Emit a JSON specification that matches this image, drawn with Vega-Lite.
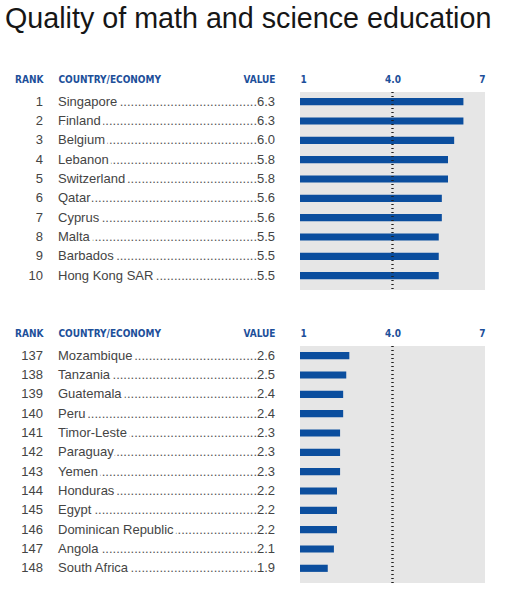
{
  "$schema": "https://vega.github.io/schema/vega-lite/v6.json",
  "background": "white",
  "padding": {"left": 5, "top": 5, "right": 5, "bottom": 5},
  "title": {
    "text": "Quality of math and science education",
    "anchor": "start",
    "font": "Liberation Sans",
    "fontSize": 28.7,
    "fontWeight": "normal",
    "color": "#161616",
    "offset": 40
  },
  "datasets": {
    "best": [
      {"rank": 1, "country": "Singapore", "value": 6.3},
      {"rank": 2, "country": "Finland", "value": 6.3},
      {"rank": 3, "country": "Belgium", "value": 6.0},
      {"rank": 4, "country": "Lebanon", "value": 5.8},
      {"rank": 5, "country": "Switzerland", "value": 5.8},
      {"rank": 6, "country": "Qatar", "value": 5.6},
      {"rank": 7, "country": "Cyprus", "value": 5.6},
      {"rank": 8, "country": "Malta", "value": 5.5},
      {"rank": 9, "country": "Barbados", "value": 5.5},
      {"rank": 10, "country": "Hong Kong SAR", "value": 5.5}
    ],
    "worst": [
      {"rank": 137, "country": "Mozambique", "value": 2.6},
      {"rank": 138, "country": "Tanzania", "value": 2.5},
      {"rank": 139, "country": "Guatemala", "value": 2.4},
      {"rank": 140, "country": "Peru", "value": 2.4},
      {"rank": 141, "country": "Timor-Leste", "value": 2.3},
      {"rank": 142, "country": "Paraguay", "value": 2.3},
      {"rank": 143, "country": "Yemen", "value": 2.3},
      {"rank": 144, "country": "Honduras", "value": 2.2},
      {"rank": 145, "country": "Egypt", "value": 2.2},
      {"rank": 146, "country": "Dominican Republic", "value": 2.2},
      {"rank": 147, "country": "Angola", "value": 2.1},
      {"rank": 148, "country": "South Africa", "value": 1.9}
    ]
  },
  "spacing": 37,
  "vconcat": [
    {
      "data": {"name": "best"},
      "spacing": 15,
      "hconcat": [
        {
          "width": 38,
          "height": 198,
          "mark": {"type": "text", "align": "right", "baseline": "middle", "font": "Liberation Sans", "fontSize": 13, "color": "#444"},
          "encoding": {
            "y": {"field": "rank", "type": "ordinal", "axis": null, "scale": {"type": "point", "padding": 0.62, "align": 0.403}},
            "x": {"datum": 1, "type": "quantitative", "scale": {"domain": [0, 1]}, "axis": {"values": [1], "labelExpr": "'RANK'", "labelAlign": "right"}},
            "text": {"field": "rank", "type": "ordinal"}
          }
        },
        {
          "width": 227,
          "height": 198,
          "encoding": {
            "y": {"field": "rank", "type": "ordinal", "axis": null, "scale": {"type": "point", "padding": 0.62, "align": 0.403}}
          },
          "layer": [
            {
              "mark": {"type": "text", "text": "............................................................", "align": "right", "baseline": "middle", "dx": -28, "clip": true, "font": "Liberation Sans", "fontSize": 13, "color": "#555"},
              "encoding": {
                "x": {"datum": 1, "type": "quantitative", "scale": {"domain": [0, 1]}, "axis": {
                  "values": [0, 1],
                  "labelExpr": "datum.value == 0 ? 'COUNTRY/ECONOMY' : 'VALUE'",
                  "labelAlign": {"condition": {"test": "datum.value == 0", "value": "left"}, "value": "right"},
                  "labelOffset": {"condition": {"test": "datum.value == 0", "value": 0}, "value": -10}
                }}
              }
            },
            {
              "mark": {"type": "text", "align": "left", "baseline": "middle", "font": "Liberation Sans", "fontSize": 13, "fill": "white", "stroke": "white", "strokeWidth": 6},
              "encoding": {
                "x": {"datum": 0, "type": "quantitative"},
                "text": {"field": "country"}
              }
            },
            {
              "mark": {"type": "text", "align": "left", "baseline": "middle", "font": "Liberation Sans", "fontSize": 13, "color": "#444"},
              "encoding": {
                "x": {"datum": 0, "type": "quantitative"},
                "text": {"field": "country"}
              }
            },
            {
              "mark": {"type": "text", "align": "right", "baseline": "middle", "dx": -10, "font": "Liberation Sans", "fontSize": 13, "color": "#444"},
              "encoding": {
                "x": {"datum": 1, "type": "quantitative"},
                "text": {"field": "value", "type": "quantitative", "format": ".1f"}
              }
            }
          ]
        },
        {
          "width": 185,
          "height": 198,
          "view": {"fill": "#e6e6e6", "stroke": null},
          "layer": [
            {
              "mark": {"type": "bar", "color": "#0b4e9e", "height": {"band": 0.37}},
              "encoding": {
                "y": {"field": "rank", "type": "ordinal", "axis": null, "scale": {"paddingInner": 0, "paddingOuter": 0.12, "align": 0}},
                "x": {"field": "value", "type": "quantitative", "scale": {"domain": [1, 7], "zero": false}, "axis": {
                  "values": [1, 4, 7],
                  "labelExpr": "datum.value == 4 ? '4.0' : datum.label",
                  "labelFlush": true
                }},
                "x2": {"datum": 1}
              }
            },
            {
              "mark": {"type": "rule", "color": "#222", "strokeWidth": 1.2, "strokeDash": [1, 3]},
              "encoding": {"x": {"datum": 4, "type": "quantitative"}}
            }
          ]
        }
      ]
    },
    {
      "data": {"name": "worst"},
      "spacing": 15,
      "hconcat": [
        {
          "width": 38,
          "height": 237,
          "mark": {"type": "text", "align": "right", "baseline": "middle", "font": "Liberation Sans", "fontSize": 13, "color": "#444"},
          "encoding": {
            "y": {"field": "rank", "type": "ordinal", "axis": null, "scale": {"type": "point", "padding": 0.63, "align": 0.397}},
            "x": {"datum": 1, "type": "quantitative", "scale": {"domain": [0, 1]}, "axis": {"values": [1], "labelExpr": "'RANK'", "labelAlign": "right"}},
            "text": {"field": "rank", "type": "ordinal"}
          }
        },
        {
          "width": 227,
          "height": 237,
          "encoding": {
            "y": {"field": "rank", "type": "ordinal", "axis": null, "scale": {"type": "point", "padding": 0.63, "align": 0.397}}
          },
          "layer": [
            {
              "mark": {"type": "text", "text": "............................................................", "align": "right", "baseline": "middle", "dx": -28, "clip": true, "font": "Liberation Sans", "fontSize": 13, "color": "#555"},
              "encoding": {
                "x": {"datum": 1, "type": "quantitative", "scale": {"domain": [0, 1]}, "axis": {
                  "values": [0, 1],
                  "labelExpr": "datum.value == 0 ? 'COUNTRY/ECONOMY' : 'VALUE'",
                  "labelAlign": {"condition": {"test": "datum.value == 0", "value": "left"}, "value": "right"},
                  "labelOffset": {"condition": {"test": "datum.value == 0", "value": 0}, "value": -10}
                }}
              }
            },
            {
              "mark": {"type": "text", "align": "left", "baseline": "middle", "font": "Liberation Sans", "fontSize": 13, "fill": "white", "stroke": "white", "strokeWidth": 6},
              "encoding": {
                "x": {"datum": 0, "type": "quantitative"},
                "text": {"field": "country"}
              }
            },
            {
              "mark": {"type": "text", "align": "left", "baseline": "middle", "font": "Liberation Sans", "fontSize": 13, "color": "#444"},
              "encoding": {
                "x": {"datum": 0, "type": "quantitative"},
                "text": {"field": "country"}
              }
            },
            {
              "mark": {"type": "text", "align": "right", "baseline": "middle", "dx": -10, "font": "Liberation Sans", "fontSize": 13, "color": "#444"},
              "encoding": {
                "x": {"datum": 1, "type": "quantitative"},
                "text": {"field": "value", "type": "quantitative", "format": ".1f"}
              }
            }
          ]
        },
        {
          "width": 185,
          "height": 237,
          "view": {"fill": "#e6e6e6", "stroke": null},
          "layer": [
            {
              "mark": {"type": "bar", "color": "#0b4e9e", "height": {"band": 0.37}},
              "encoding": {
                "y": {"field": "rank", "type": "ordinal", "axis": null, "scale": {"paddingInner": 0, "paddingOuter": 0.13, "align": 0}},
                "x": {"field": "value", "type": "quantitative", "scale": {"domain": [1, 7], "zero": false}, "axis": {
                  "values": [1, 4, 7],
                  "labelExpr": "datum.value == 4 ? '4.0' : datum.label",
                  "labelFlush": true
                }},
                "x2": {"datum": 1}
              }
            },
            {
              "mark": {"type": "rule", "color": "#222", "strokeWidth": 1.2, "strokeDash": [1, 3]},
              "encoding": {"x": {"datum": 4, "type": "quantitative"}}
            }
          ]
        }
      ]
    }
  ],
  "config": {
    "view": {"stroke": null},
    "axis": {
      "orient": "top",
      "title": null,
      "ticks": false,
      "domain": false,
      "grid": false,
      "labelPadding": 8,
      "labelFont": "Liberation Sans Narrow, DejaVu Sans Condensed, Liberation Sans",
      "labelFontWeight": "bold",
      "labelFontSize": 10,
      "labelColor": "#1d4f9a",
      "labelOverlap": false
    }
  }
}
